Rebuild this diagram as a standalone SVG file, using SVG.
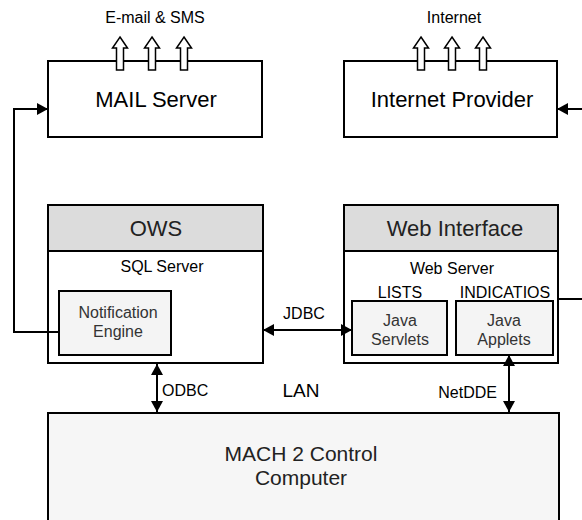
<svg xmlns="http://www.w3.org/2000/svg" width="582" height="520" viewBox="0 0 582 520">
  <defs>
    <marker id="tri" viewBox="0 0 11 12" refX="11" refY="6" markerWidth="11" markerHeight="12" markerUnits="userSpaceOnUse" orient="auto-start-reverse">
      <path d="M0,0 L11,6 L0,12 Z" fill="#000"/>
    </marker>
    <!-- hollow upward block arrow, origin at tip -->
    <path id="up" d="M0,0 L7.5,11 L3.5,11 L3.5,33 L-3.5,33 L-3.5,11 L-7.5,11 Z" fill="#fff" stroke="#000" stroke-width="1.5"/>
  </defs>
  <style>
    text { font-family: "Liberation Sans", Arial, sans-serif; fill: #000; text-anchor: middle; dominant-baseline: central; }
    .box { fill: #fff; stroke: #000; stroke-width: 2; }
    .head { fill: #dcdcdc; stroke: #000; stroke-width: 2; }
    .inner { fill: #f4f4f4; stroke: #000; stroke-width: 2; }
    .line { fill: none; stroke: #000; stroke-width: 2; }
    .big { font-size: 22px; }
    .title { font-size: 22px; fill: #222; }
    .lbl { font-size: 16px; }
    .j { font-size: 16px; fill: #333; }
    .mach { font-size: 21px; fill: #222; }
  </style>

  <g id="mail-server">
    <rect class="box" x="48" y="61" width="214" height="76"/>
    <use href="#up" x="120" y="37"/>
    <use href="#up" x="152" y="37"/>
    <use href="#up" x="184" y="37"/>
    <text class="lbl" x="155" y="17.5">E-mail &amp; SMS</text>
    <text class="big" x="156" y="99">MAIL Server</text>
  </g>

  <g id="internet-provider">
    <rect class="box" x="344" y="61" width="213" height="76"/>
    <use href="#up" x="421" y="37"/>
    <use href="#up" x="452" y="37"/>
    <use href="#up" x="483" y="37"/>
    <text class="lbl" x="454" y="17.5">Internet</text>
    <text class="big" x="452" y="99">Internet Provider</text>
  </g>

  <g id="ows">
    <rect class="box" x="48" y="205" width="215" height="158"/>
    <rect class="head" x="48" y="205" width="215" height="46"/>
    <text class="title" x="156" y="228">OWS</text>
    <text class="lbl" x="162" y="266">SQL Server</text>
  </g>

  <g id="notification-engine">
    <rect class="inner" x="59" y="291" width="112" height="64"/>
    <text class="j" x="118" y="312">Notification</text>
    <text class="j" x="118" y="331">Engine</text>
  </g>

  <g id="web-interface">
    <rect class="box" x="344" y="205" width="214" height="158"/>
    <rect class="head" x="344" y="205" width="214" height="46"/>
    <text class="title" x="455" y="228">Web Interface</text>
    <text class="lbl" x="452" y="268">Web Server</text>
    <text class="lbl" x="400" y="292">LISTS</text>
    <text class="lbl" x="505" y="292">INDICATIOS</text>
  </g>

  <g id="java-servlets">
    <rect class="inner" x="352" y="301" width="95" height="54"/>
    <text class="j" x="400" y="320.5">Java</text>
    <text class="j" x="400" y="339">Servlets</text>
  </g>

  <g id="java-applets">
    <rect class="inner" x="456" y="301" width="97" height="54"/>
    <text class="j" x="504" y="320.5">Java</text>
    <text class="j" x="504" y="339">Applets</text>
  </g>

  <g id="mach2">
    <rect x="48" y="413" width="511" height="120" fill="#f6f6f6" stroke="#000" stroke-width="2"/>
    <text class="mach" x="301" y="453">MACH 2 Control</text>
    <text class="mach" x="301" y="477">Computer</text>
  </g>

  <g id="connectors">
    <!-- notification engine to mail server -->
    <path class="line" d="M59,332 H14 V109 H48" marker-end="url(#tri)"/>
    <!-- incoming feed to internet provider -->
    <path class="line" d="M582,109 H557" marker-end="url(#tri)"/>
    <!-- outgoing feed from web interface -->
    <path class="line" d="M558,299 H582"/>
    <!-- JDBC -->
    <path class="line" d="M263,330 H352" marker-start="url(#tri)" marker-end="url(#tri)"/>
    <text class="lbl" x="304" y="313">JDBC</text>
    <!-- ODBC -->
    <path class="line" d="M157,364 V412" marker-start="url(#tri)" marker-end="url(#tri)"/>
    <text class="lbl" x="162" y="390.5" style="text-anchor:start">ODBC</text>
    <!-- NetDDE -->
    <path class="line" d="M509,355 V412" marker-start="url(#tri)" marker-end="url(#tri)"/>
    <text class="lbl" x="497" y="392.5" style="text-anchor:end">NetDDE</text>
    <text style="font-size:19px" x="301" y="390">LAN</text>
  </g>
</svg>
